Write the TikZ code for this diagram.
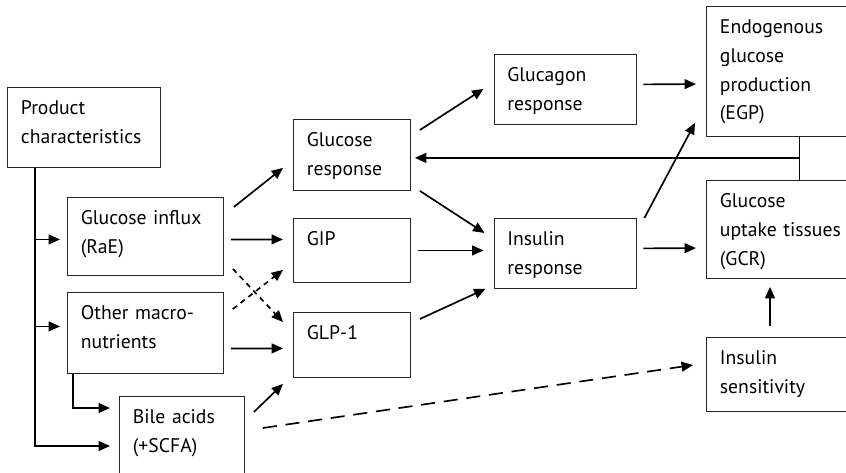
\documentclass[tikz,border=0pt]{standalone}
\usepackage{fontspec}
\setmainfont{PT Sans}
\usetikzlibrary{arrows.meta}

\begin{document}
\begin{tikzpicture}[
  blk/.style={draw=black!85,line width=0.5pt,rectangle,anchor=north west,
              inner xsep=0.27cm,inner ysep=0pt,text height=0.54cm,align=left,
              font=\fontsize{11.2pt}{16.4pt}\selectfont},
  arr/.style={-{Triangle[length=6.5pt,width=5.6pt]},line width=0.95pt},
  gap/.style={shorten <=0.14cm,shorten >=0.2cm},
  fine/.style={dash pattern=on 3pt off 2.6pt},
  coarse/.style={dash pattern=on 8pt off 5pt}
]
  \useasboundingbox (0,0) rectangle (16.92,-9.44);

  % ---- Inputs (left column) ------------------------------------
  \node[blk,text width=2.52cm,text depth=1.06cm] (prod) at (0.14,-1.74)
    {Product\\characteristics};
  \node[blk,text width=2.58cm,text depth=1.02cm] (influx) at (1.34,-3.94)
    {Glucose influx\\(RaE)};
  \node[blk,text width=2.58cm,text depth=1.08cm] (macro) at (1.34,-5.84)
    {Other macro-\\nutrients};
  \node[blk,text width=1.96cm,text depth=1.26cm] (bile) at (2.38,-7.92)
    {Bile acids\\(+SCFA)};

  % ---- Glucose and incretins -----------------------------------
  \node[blk,text width=1.80cm,text depth=0.88cm] (gresp) at (5.86,-2.38)
    {Glucose\\response};
  \node[blk,text width=1.80cm,text depth=0.74cm] (gip) at (5.86,-4.36) {GIP};
  \node[blk,text width=1.80cm,text depth=0.76cm] (glp) at (5.86,-6.24) {GLP-1};

  % ---- Pancreatic hormones -------------------------------------
  \node[blk,text width=2.30cm,text depth=0.86cm] (glucagon) at (9.87,-1.08)
    {Glucagon\\response};
  \node[blk,text width=2.30cm,text depth=0.86cm] (insulin) at (9.87,-4.36)
    {Insulin\\response};

  % ---- Targets (right column) ----------------------------------
  \node[blk,text width=2.76cm,text depth=2.06cm] (egp) at (14.12,-0.12)
    {Endogenous\\glucose\\production\\(EGP)};
  \node[blk,text width=2.76cm,text depth=1.42cm] (gcr) at (14.12,-3.60)
    {Glucose\\uptake tissues\\(GCR)};
  \node[blk,text width=2.76cm,text depth=0.94cm] (sens) at (14.12,-6.74)
    {Insulin\\sensitivity};

  % Feed lines from product characteristics
  \coordinate (trunk) at ([xshift=0.56cm]prod.south west);
  \draw[arr,shorten >=0.18cm] (trunk) |- ([yshift=-1cm]bile.north west);
  \draw[arr,shorten >=0.14cm] ([yshift=-0.06cm]influx.west -| trunk) -- ([yshift=-0.06cm]influx.west);
  \draw[arr,shorten >=0.14cm] ([yshift=0.13cm]macro.west -| trunk) -- ([yshift=0.13cm]macro.west);
  \draw[arr,shorten >=0.18cm] ([xshift=0.12cm]macro.south west) |- ([yshift=-0.24cm]bile.north west);

  % Inputs to glucose and incretins
  \draw[arr] ([xshift=0.2cm,yshift=-0.2cm]influx.north east) -- ([xshift=-0.2cm,yshift=0.46cm]gresp.south west);
  \draw[arr,gap] ([yshift=-0.06cm]influx.east) -- ([yshift=0.22cm]gip.west);
  \draw[arr,fine] ([xshift=0.18cm,yshift=0.14cm]influx.south east) -- ([xshift=-0.2cm,yshift=-0.2cm]glp.north west);
  \draw[arr,fine] ([xshift=0.18cm,yshift=-0.34cm]macro.north east) -- ([xshift=-0.2cm,yshift=0.26cm]gip.south west);
  \draw[arr,gap] ([yshift=-0.31cm]macro.east) -- ([yshift=-0.07cm]glp.west);
  \draw[arr] ([xshift=0.18cm,yshift=-0.32cm]bile.north east) -- ([xshift=-0.2cm,yshift=-0.12cm]glp.south west);
  \draw[arr,coarse] ([xshift=0.36cm,yshift=-0.64cm]bile.north east) -- ([xshift=-0.26cm,yshift=-0.56cm]sens.north west);

  % Hormone responses
  \draw[arr] ([xshift=0.18cm,yshift=-0.22cm]gresp.north east) -- ([xshift=-0.2cm,yshift=0.72cm]glucagon.south west);
  \draw[arr] ([xshift=0.18cm]gresp.south east) -- ([xshift=-0.18cm,yshift=-0.3cm]insulin.north west);
  \draw[arr,gap] (gip.east) -- (gip.east -| insulin.west);
  \draw[arr] ([xshift=0.18cm,yshift=-0.14cm]glp.north east) -- ([xshift=-0.16cm]insulin.south west);

  % Effects on production and uptake
  \draw[arr,gap] ([yshift=0.1cm]glucagon.east) -- ([yshift=-1.56cm]egp.north west);
  \draw[arr] ([xshift=0.16cm]insulin.north east) -- ([xshift=-0.22cm,yshift=0.28cm]egp.south west);
  \draw[arr,gap] ([yshift=0.1cm]insulin.east) -- ([yshift=-1.36cm]gcr.north west);
  \draw[arr,shorten <=0.22cm,shorten >=0.16cm] ([xshift=1.28cm]sens.north west) -- ([xshift=1.28cm]gcr.south west);

  % Feedback to glucose response
  \draw[line width=0.5pt] ([xshift=1.86cm]egp.south west) -- ([xshift=1.86cm]gcr.north west);
  \coordinate (junc) at ([xshift=1.86cm,yshift=-0.42cm]egp.south west);
  \draw[arr,shorten >=0.08cm] (junc) -- (junc -| gresp.east);

\end{tikzpicture}
\end{document}
